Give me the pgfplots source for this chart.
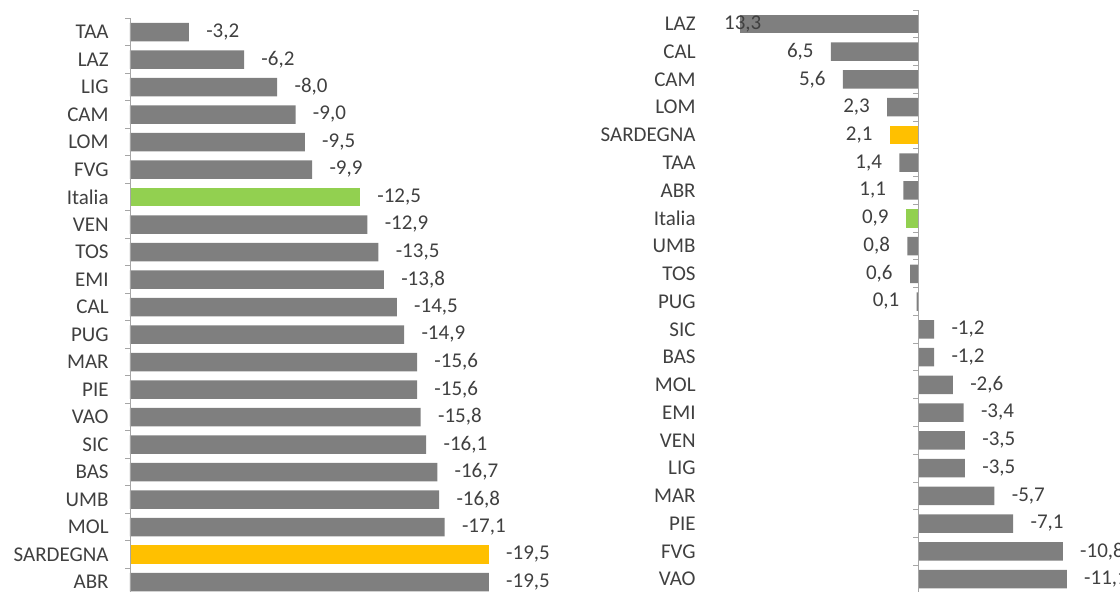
\documentclass[border=0pt]{standalone}
\usepackage{fontspec}
\setmainfont{Carlito}
\usepackage{pgfplots}
\pgfplotsset{compat=1.18}
\definecolor{barg}{HTML}{7F7F7F}
\definecolor{bargreen}{HTML}{92D050}
\definecolor{barorange}{HTML}{FFC000}
\definecolor{txt}{HTML}{404040}
\definecolor{axline}{HTML}{A6A6A6}
\pgfplotsset{
  panel/.style={
    scale only axis, clip=false,
    x dir=reverse, y dir=reverse,
    ymin=-0.5, ymax=20.5,
    ytick={0,...,20}, xtick=\empty,
    axis line style={draw=none}, tick style={draw=none},
    yticklabel style={inner sep=0pt, anchor=east, text=txt},
    /pgf/number format/.cd, fixed, fixed zerofill, precision=1, use comma, assume math mode=true,
  },
  hb/.style={xbar, bar width=9.25pt, bar shift=0pt, draw=none, fill=#1,
    nodes near coords, nodes near coords style={text=txt, inner sep=0pt}},
  lw/.style={every node near coord/.append style={anchor=west, xshift=8.5pt}},
  le/.style={every node near coord/.append style={anchor=east, xshift=-8.5pt}},
}
\begin{document}
\begin{tikzpicture}[font=\fontsize{10.5}{12}\selectfont]
\useasboundingbox (0,0) rectangle (560pt,295.5pt);
\clip (0,0) rectangle (560pt,295.5pt);
% ---------------- left panel ----------------
\begin{axis}[panel,
  at={(65pt,286.375pt)}, anchor=north west,
  width=184pt, height=288.75pt,
  xmin=-20, xmax=0,
  yticklabel style={xshift=-10.5pt},
  yticklabels={TAA,LAZ,LIG,CAM,LOM,FVG,Italia,VEN,TOS,EMI,CAL,PUG,MAR,PIE,VAO,SIC,BAS,UMB,MOL,SARDEGNA,ABR},
]
\addplot[hb=barg, lw] coordinates {
(-3.2,0) (-6.2,1) (-8.0,2) (-9.0,3) (-9.5,4) (-9.9,5)
(-12.9,7) (-13.5,8) (-13.8,9) (-14.5,10) (-14.9,11) (-15.6,12) (-15.6,13)
(-15.8,14) (-16.1,15) (-16.7,16) (-16.8,17) (-17.1,18) (-19.5,20)};
\addplot[hb=bargreen, lw] coordinates {(-12.5,6)};
\addplot[hb=barorange, lw] coordinates {(-19.5,19)};
\draw[axline] (axis cs:0,-0.5) -- (axis cs:0,20.5);
\pgfplotsinvokeforeach{-0.5,0.5,...,20.5}{\draw[axline] (axis cs:0,#1) -- ++(-2.5pt,0pt);}
\end{axis}
% ---------------- right panel ----------------
\begin{axis}[panel,
  at={(350pt,290.45pt)}, anchor=north west,
  width=210pt, height=291.4pt,
  xmin=-15.07, xmax=16.27,
  yticklabel style={xshift=-2pt},
  yticklabels={LAZ,CAL,CAM,LOM,SARDEGNA,TAA,ABR,Italia,UMB,TOS,PUG,SIC,BAS,MOL,EMI,VEN,LIG,MAR,PIE,FVG,VAO},
]
\addplot[hb=barg, every node near coord/.append style={anchor=west, xshift=-8pt}] coordinates {(13.3,0)};
\addplot[hb=barg, le] coordinates {
(6.5,1) (5.6,2) (2.3,3) (1.4,5) (1.1,6) (0.8,8) (0.6,9) (0.1,10)};
\addplot[hb=barg, lw] coordinates {
(-1.2,11) (-1.2,12) (-2.6,13) (-3.4,14) (-3.5,15) (-3.5,16) (-5.7,17) (-7.1,18) (-10.8,19) (-11.1,20)};
\addplot[hb=barorange, le] coordinates {(2.1,4)};
\addplot[hb=bargreen, le] coordinates {(0.9,7)};
\draw[axline] (axis cs:0,-0.5) -- (axis cs:0,20.5);
\pgfplotsinvokeforeach{-0.5,0.5,...,20.5}{\draw[axline] (axis cs:0,#1) -- ++(-2.5pt,0pt);}
\end{axis}
\end{tikzpicture}
\end{document}
